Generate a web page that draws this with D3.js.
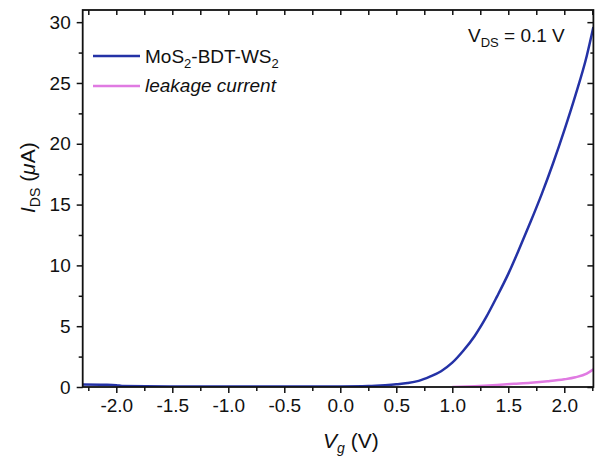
<!DOCTYPE html>
<html>
<head>
<meta charset="utf-8">
<script src="https://cdn.jsdelivr.net/npm/d3@7"></script>
<style>
  body { margin: 0; background: #fff; }
  text { font-family: "Liberation Sans", Arial, sans-serif; fill: #111; }
</style>
</head>
<body>
<div id="chart"></div>
<script>
// 1: DATA
const vgDevice = [-2.3, -2.1, -2.0, -1.95, -1.5, -1.0, -0.5, 0.0, 0.25, 0.4, 0.5, 0.6, 0.7, 0.8, 0.9, 1.0, 1.1, 1.2, 1.3, 1.4, 1.5, 1.6, 1.7, 1.8, 1.9, 2.0, 2.1, 2.2, 2.26];
const idsDevice = [0.2, 0.18, 0.15, 0.08, 0.05, 0.04, 0.04, 0.05, 0.08, 0.15, 0.22, 0.32, 0.5, 0.85, 1.3, 2.0, 3.0, 4.2, 5.7, 7.45, 9.3, 11.4, 13.6, 15.9, 18.4, 21.1, 24.0, 27.2, 29.6];
const vgLeak = [1.0, 1.2, 1.4, 1.55, 1.7, 1.85, 2.0, 2.1, 2.2, 2.26];
const idsLeak = [0.0, 0.07, 0.17, 0.26, 0.35, 0.47, 0.63, 0.8, 1.1, 1.45];
const xTickLabels = [-2.0, -1.5, -1.0, -0.5, 0.0, 0.5, 1.0, 1.5, 2.0];
const yTickLabels = [0, 5, 10, 15, 20, 25, 30];
const seriesNames = ["MoS2-BDT-WS2", "leakage current"];
const seriesColors = ["#2432a6", "#e07ae2"];

// 2: SIZES
const W = 595, H = 465;
const pLeft = 82.7, pRight = 593.4, pTop = 10, pBottom = 387;

const svg = d3.select("#chart").append("svg")
    .attr("width", W)
    .attr("height", H);

// 3: SCALES
const x = d3.scaleLinear().domain([-2.3, 2.26]).range([pLeft, pRight]);
const y = d3.scaleLinear().domain([0, 31]).range([pBottom, pTop]);

const xMinor = d3.range(-2.25, 2.26, 0.5).map(v => +v.toFixed(2));
const yMinor = d3.range(2.5, 31, 5);

// clip for curves
svg.append("clipPath").attr("id", "clip")
    .append("rect")
    .attr("x", pLeft).attr("y", pTop)
    .attr("width", pRight - pLeft).attr("height", pBottom - pTop);

// 4: CURVES
const line = d3.line()
    .x(d => x(d[0]))
    .y(d => y(d[1]))
    .curve(d3.curveMonotoneX);

const device = vgDevice.map((v, i) => [v, idsDevice[i]]);
const leak = vgLeak.map((v, i) => [v, idsLeak[i]]);

const curves = svg.append("g").attr("clip-path", "url(#clip)");
curves.append("path")
    .datum(device)
    .attr("d", line)
    .attr("fill", "none")
    .attr("stroke", seriesColors[0])
    .attr("stroke-width", 2.5);
curves.append("path")
    .datum(leak)
    .attr("d", line)
    .attr("fill", "none")
    .attr("stroke", seriesColors[1])
    .attr("stroke-width", 2.5);

// 5: AXES
const tickMajor = 6, tickMinor = 4;

// bottom
svg.append("g")
    .attr("transform", `translate(0,${pBottom})`)
    .call(d3.axisBottom(x).tickValues(xTickLabels).tickSize(tickMajor).tickPadding(6).tickFormat(d => d3.format(".1f")(d).replace("−", "-")))
    .call(g => g.select(".domain").remove())
    .call(g => g.selectAll("text").style("font-size", "19px"));
svg.append("g")
    .attr("transform", `translate(0,${pBottom})`)
    .call(d3.axisBottom(x).tickValues(xMinor).tickSize(tickMinor).tickFormat(""))
    .call(g => g.select(".domain").remove());

// top (inward)
svg.append("g")
    .attr("transform", `translate(0,${pTop})`)
    .call(d3.axisBottom(x).tickValues(xTickLabels.concat(xMinor)).tickSize(5).tickFormat(""))
    .call(g => g.select(".domain").remove());

// left
svg.append("g")
    .attr("transform", `translate(${pLeft},0)`)
    .call(d3.axisLeft(y).tickValues(yTickLabels).tickSize(tickMajor).tickPadding(6))
    .call(g => g.select(".domain").remove())
    .call(g => g.selectAll("text").style("font-size", "19px"));
svg.append("g")
    .attr("transform", `translate(${pLeft},0)`)
    .call(d3.axisLeft(y).tickValues(yMinor).tickSize(tickMinor).tickFormat(""))
    .call(g => g.select(".domain").remove());

// right (inward)
svg.append("g")
    .attr("transform", `translate(${pRight},0)`)
    .call(d3.axisLeft(y).tickValues(yTickLabels).tickSize(tickMajor).tickFormat(""))
    .call(g => g.select(".domain").remove());
svg.append("g")
    .attr("transform", `translate(${pRight},0)`)
    .call(d3.axisLeft(y).tickValues(yMinor).tickSize(3).tickFormat(""))
    .call(g => g.select(".domain").remove());

svg.selectAll(".tick line").attr("stroke", "#111").attr("stroke-width", 1.5);
svg.selectAll(".tick text").attr("fill", "#111");

// frame
svg.append("rect")
    .attr("x", pLeft).attr("y", pTop)
    .attr("width", pRight - pLeft).attr("height", pBottom - pTop)
    .attr("fill", "none")
    .attr("stroke", "#111")
    .attr("stroke-width", 1.8);

// 6: LABELS
const xt = svg.append("text")
    .attr("x", 323)
    .attr("y", 448)
    .style("font-size", "21px");
xt.append("tspan").style("font-style", "italic").text("V");
xt.append("tspan").style("font-style", "italic").style("font-size", "14px").attr("dy", 5).text("g");
xt.append("tspan").attr("dy", -5).text(" (V)");

const yt = svg.append("text")
    .attr("transform", `translate(35,${213}) rotate(-90)`)
    .style("font-size", "21px");
yt.append("tspan").style("font-style", "italic").text("I");
yt.append("tspan").style("font-size", "14px").attr("dy", 5).text("DS");
yt.append("tspan").attr("dy", -5).text(" (");
yt.append("tspan").style("font-style", "italic").text("μ");
yt.append("tspan").text("A)");

const vds = svg.append("text")
    .attr("x", 468)
    .attr("y", 42)
    .style("font-size", "19px");
vds.append("tspan").text("V");
vds.append("tspan").style("font-size", "13px").attr("dy", 5).text("DS");
vds.append("tspan").attr("dy", -5).text(" = 0.1 V");

// LEGEND
const legendRows = [
    { y: 56, color: seriesColors[0] },
    { y: 86, color: seriesColors[1] }
];
legendRows.forEach(r => {
    svg.append("line")
        .attr("x1", 93).attr("x2", 140)
        .attr("y1", r.y).attr("y2", r.y)
        .attr("stroke", r.color)
        .attr("stroke-width", 2.5);
});
const l1 = svg.append("text").attr("x", 145).attr("y", 63).style("font-size", "19px");
l1.append("tspan").text("MoS");
l1.append("tspan").style("font-size", "13px").attr("dy", 5).text("2");
l1.append("tspan").attr("dy", -5).text("-BDT-WS");
l1.append("tspan").style("font-size", "13px").attr("dy", 5).text("2");

svg.append("text")
    .attr("x", 145).attr("y", 92)
    .style("font-size", "19px")
    .style("font-style", "italic")
    .text(seriesNames[1]);
</script>
</body>
</html>
